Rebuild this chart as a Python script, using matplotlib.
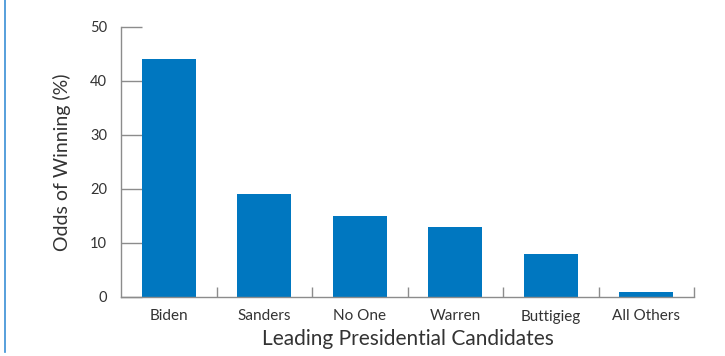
import matplotlib
matplotlib.use('Agg')
import matplotlib.pyplot as plt
from matplotlib.lines import Line2D
import numpy as np

# data
candidates = ["Biden", "Sanders", "No One", "Warren", "Buttigieg", "All Others"]
odds = [44, 19, 15, 13, 8, 1]
yticks = [0, 10, 20, 30, 40, 50]

barColor = "#0077c0"
axisColor = "#8c8c8c"
textColor = "#333333"

plt.rcParams['font.family'] = ['Lato', 'DejaVu Sans']

fig = plt.figure(figsize=(7.25, 3.56), dpi=100)
ax = fig.add_axes([121 / 725, 59 / 356, 573 / 725, 270 / 356])

x = np.arange(len(candidates))
ax.bar(x, odds, width=0.57, color=barColor, zorder=2)

ax.set_xlim(-0.5, len(candidates) - 0.5)
ax.set_ylim(0, 50)

# y axis: ticks pointing inward
ax.set_yticks(yticks)
ax.tick_params(axis='y', direction='in', length=15, width=1, color=axisColor,
               labelsize=10.5, labelcolor=textColor, pad=10)

# x axis: ticks between the bars, pointing up
ax.set_xticks(x)
ax.set_xticklabels(candidates)
ax.set_xticks(np.arange(len(candidates)) + 0.5, minor=True)
ax.tick_params(axis='x', which='major', length=0, labelsize=11, labelcolor=textColor, pad=9)
ax.tick_params(axis='x', which='minor', direction='in', length=7, width=1, color=axisColor)

for side in ['top', 'right']:
    ax.spines[side].set_visible(False)
for side in ['left', 'bottom']:
    ax.spines[side].set_color(axisColor)
    ax.spines[side].set_linewidth(1)

ax.set_ylabel("Odds of Winning (%)", fontsize=14, color=textColor, labelpad=14)
ax.set_xlabel("Leading Presidential Candidates", fontsize=15, color=textColor, labelpad=4)

# thin blue rule down the left edge
fig.add_artist(Line2D([4.5 / 725, 4.5 / 725], [4 / 356, 1.0], transform=fig.transFigure,
                      color="#3a8fd6", linewidth=1.2))

fig.savefig("out.png", dpi=100)
